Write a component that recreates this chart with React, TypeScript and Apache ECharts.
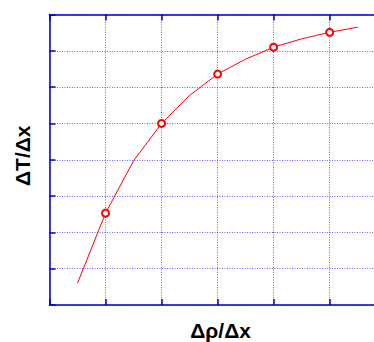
import React, { useEffect, useRef } from "react";
import * as echarts from "echarts";

// Sampled curve: x positions and the matching ΔT/Δx values
const xValues = [0.5, 1, 1.5, 2, 2.5, 3, 3.5, 4, 4.5, 5, 5.5];
const yValues = [0.6, 2.53, 3.97, 5.0, 5.77, 6.36, 6.77, 7.1, 7.33, 7.51, 7.65];

const xTitle = "Δρ/Δx";
const yTitle = "ΔT/Δx";

const AXIS_BLUE = "#0000cc";
const GRID_BLUE = "#2020ff";
const CURVE_RED = "#ff0000";

export default function App() {
  const ref = useRef<HTMLDivElement>(null);

  useEffect(() => {
    if (!ref.current) return;
    const chart = echarts.init(ref.current, null, { renderer: "svg" });

    const seriesData = xValues.map((x, i) => ({
      value: [x, yValues[i]],
      // circles only on the whole-number samples
      symbol: Number.isInteger(x) ? "emptyCircle" : "none",
    }));

    const axisLine = { show: true, lineStyle: { color: AXIS_BLUE, width: 1.5 } };
    const axisTick = {
      show: true,
      inside: true,
      length: 6,
      lineStyle: { color: AXIS_BLUE, width: 1.5 },
    };
    const splitLine = {
      show: true,
      lineStyle: { color: GRID_BLUE, width: 1, opacity: 0.7, type: [1, 1.5] as number[] },
    };
    const titleFont = {
      fontFamily: "Liberation Sans, Arial, sans-serif",
      fontWeight: "bold" as const,
      fontSize: 21,
      color: "#000",
    };

    chart.setOption({
      animation: false,
      grid: {
        left: 49.5,
        top: 14.5,
        right: -11.7,
        bottom: 37,
        containLabel: false,
        outerBoundsMode: "none",
      },
      xAxis: [
        {
          type: "value",
          position: "bottom",
          min: 0,
          max: 6,
          interval: 1,
          name: xTitle,
          nameLocation: "middle",
          nameGap: 15,
          nameTextStyle: { ...titleFont, padding: [0, 0, 0, 6] },
          axisLine,
          axisTick,
          axisLabel: { show: false },
          splitLine,
        },
        {
          type: "value",
          position: "top",
          min: 0,
          max: 6,
          interval: 1,
          axisLine,
          axisTick,
          axisLabel: { show: false },
          splitLine: { show: false },
        },
      ],
      yAxis: [
        {
          type: "value",
          min: 0,
          max: 8,
          interval: 1,
          name: yTitle,
          nameLocation: "middle",
          nameGap: 17,
          nameTextStyle: { ...titleFont, padding: [0, 0, 0, 8] },
          axisLine,
          axisTick,
          axisLabel: { show: false },
          splitLine,
        },
      ],
      series: [
        {
          type: "line",
          data: seriesData,
          symbolSize: 7,
          showSymbol: true,
          lineStyle: { color: CURVE_RED, width: 1 },
          itemStyle: { color: CURVE_RED, borderColor: CURVE_RED, borderWidth: 1 },
          emphasis: { disabled: true },
        },
      ],
    });

    return () => chart.dispose();
  }, []);

  return (
    <div
      ref={ref}
      style={{ position: "fixed", left: 0, top: 0, width: 374, height: 342, background: "#fff" }}
    />
  );
}
